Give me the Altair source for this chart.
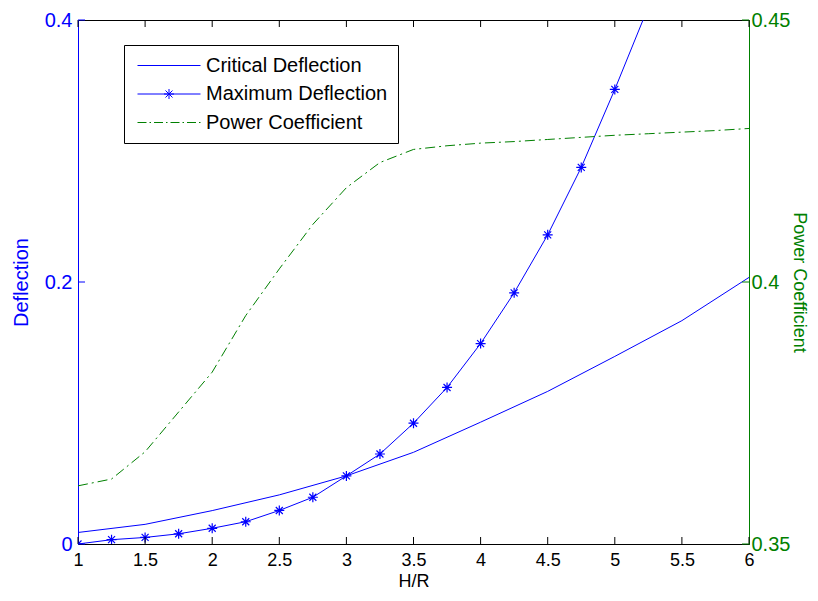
import altair as alt
import pandas as pd

# ---------------- data ----------------
x_max = [1.0, 1.25, 1.5, 1.75, 2.0, 2.25, 2.5, 2.75, 3.0, 3.25, 3.5, 3.75,
         4.0, 4.25, 4.5, 4.75, 5.0, 5.25]
max_deflection = [0.0, 0.0033, 0.005, 0.0078, 0.012, 0.017, 0.0256, 0.0357,
                  0.052, 0.0687, 0.0922, 0.1195, 0.153, 0.1917, 0.236, 0.2875,
                  0.347, 0.41]

x_crit = [1.0, 1.5, 2.0, 2.5, 3.0, 3.5, 4.0, 4.5, 5.0, 5.5, 6.0]
critical_deflection = [0.0088, 0.015, 0.0255, 0.0375, 0.052, 0.07, 0.093,
                       0.1165, 0.1432, 0.1705, 0.2035]

x_cp = [1.0, 1.25, 1.5, 1.75, 2.0, 2.25, 2.5, 2.75, 3.0, 3.25, 3.5, 3.75,
        4.0, 4.25, 4.5, 4.75, 5.0, 5.25, 5.5, 5.75, 6.0]
power_coefficient = [0.3611, 0.3624, 0.3676, 0.3752, 0.3828, 0.3936, 0.4025,
                     0.411, 0.418, 0.4228, 0.4253, 0.426, 0.4265, 0.4268,
                     0.4272, 0.4276, 0.428, 0.4283, 0.4286, 0.4289, 0.4293]

x_ticks = [1, 1.5, 2, 2.5, 3, 3.5, 4, 4.5, 5, 5.5, 6]
defl_ticks = [0, 0.2, 0.4]
cp_ticks = [0.35, 0.4, 0.45]
series_names = ["Critical Deflection", "Maximum Deflection", "Power Coefficient"]

# ---------------- styling ----------------
W, H = 671, 524
BLUE = "#0000ff"
GREEN = "#008000"
FONT = "Liberation Sans"
FS = 20
XFS = 18
TICK = 7

ASTERISK = "M-1,0L1,0M0,-1L0,1M-0.7,-0.7L0.7,0.7M-0.7,0.7L0.7,-0.7"


def seg(a, b):
    # legend sample path segment, unit = 10 px
    return f"M{a/10:.2f},0L{b/10:.2f},0"


L0, L1 = -7, 56
plain_path = seg(L0, L1)
cx = (L0 + L1) / 20
star_path = plain_path + (
    f"M{cx-0.5:.2f},0L{cx+0.5:.2f},0M{cx:.2f},-0.5L{cx:.2f},0.5"
    f"M{cx-0.35:.2f},-0.35L{cx+0.35:.2f},0.35M{cx-0.35:.2f},0.35L{cx+0.35:.2f},-0.35")
dd = []
p = L0
while p < L1:
    dd.append(seg(p, min(p + 9, L1)))
    p += 12
    if p < L1:
        dd.append(seg(p, min(p + 1.5, L1)))
    p += 4.5
dashdot_path = "".join(dd)

xscale = alt.Scale(domain=[1, 6], nice=False, zero=False)
dscale = alt.Scale(domain=[0, 0.4], nice=False, zero=False)
cscale = alt.Scale(domain=[0.35, 0.45], nice=False, zero=False)

df_max = pd.DataFrame({"x": x_max, "y": max_deflection})
df_crit = pd.DataFrame({"x": x_crit, "y": critical_deflection})
df_cp = pd.DataFrame({"x": x_cp, "y": power_coefficient})
df_xt = pd.DataFrame({"t": x_ticks})
df_dt = pd.DataFrame({"t": defl_ticks})
df_ct = pd.DataFrame({"t": cp_ticks})
df_leg = pd.DataFrame({"series": series_names})

x_axis = alt.Axis(values=x_ticks, format="~g", title="H/R", ticks=False,
                  grid=False, domainColor="black", orient="bottom",
                  labelColor="black", titleColor="black", labelPadding=7,
                  titlePadding=3, labelFlush=False, labelFontSize=XFS,
                  titleFontSize=XFS)
left_axis = alt.Axis(values=defl_ticks, format="~g", title="Deflection",
                     orient="left", ticks=False, grid=False, domainColor=BLUE,
                     labelColor=BLUE, titleColor=BLUE, labelPadding=6,
                     titlePadding=13)
right_axis = alt.Axis(values=cp_ticks, format="~g", title="Power Coefficient",
                      orient="right", ticks=False, grid=False, domainColor=GREEN,
                      labelColor=GREEN, titleColor=GREEN, labelPadding=2,
                      titlePadding=0, titleFontSize=18)

crit = alt.Chart(df_crit).mark_line(color=BLUE, strokeWidth=1, clip=True).encode(
    x=alt.X("x:Q", scale=xscale, axis=x_axis),
    y=alt.Y("y:Q", scale=dscale, axis=left_axis),
)
maxl = alt.Chart(df_max).mark_line(color=BLUE, strokeWidth=1, clip=True).encode(
    x=alt.X("x:Q", scale=xscale, axis=x_axis),
    y=alt.Y("y:Q", scale=dscale, axis=None),
)
maxp = alt.Chart(df_max).mark_point(shape=ASTERISK, size=100, color=BLUE,
                                    filled=False, strokeWidth=1.2, opacity=1,
                                    clip=True).encode(
    x=alt.X("x:Q", scale=xscale, axis=x_axis),
    y=alt.Y("y:Q", scale=dscale, axis=None),
)
cp = alt.Chart(df_cp).mark_line(color=GREEN, strokeWidth=1,
                                strokeDash=[10, 4, 2, 4], clip=True).encode(
    x=alt.X("x:Q", scale=xscale, axis=x_axis),
    y=alt.Y("y:Q", scale=cscale, axis=right_axis),
)
xt_bottom = alt.Chart(df_xt).mark_rule(color="black", strokeWidth=1).encode(
    x=alt.X("t:Q", scale=xscale, axis=x_axis),
    y=alt.value(H), y2=alt.value(H - TICK),
)
xt_top = alt.Chart(df_xt).mark_rule(color="black", strokeWidth=1).encode(
    x=alt.X("t:Q", scale=xscale, axis=x_axis),
    y=alt.value(0), y2=alt.value(TICK),
)
dt = alt.Chart(df_dt).mark_rule(color=BLUE, strokeWidth=1).encode(
    y=alt.Y("t:Q", scale=dscale, axis=None),
    x=alt.value(0), x2=alt.value(TICK),
)
ct = alt.Chart(df_ct).mark_rule(color=GREEN, strokeWidth=1).encode(
    y=alt.Y("t:Q", scale=cscale, axis=None),
    x=alt.value(W), x2=alt.value(W - TICK),
)

leg = alt.Legend(title=None, orient="none", legendX=46, legendY=25,
                 fillColor="white", strokeColor="black", padding=10,
                 labelFont=FONT, labelFontSize=FS, labelColor="black",
                 labelLimit=0, symbolSize=400, symbolStrokeWidth=1,
                 symbolOpacity=1, labelOffset=51, rowPadding=7.5)
legend_layer = alt.Chart(df_leg).mark_point(filled=False, opacity=1,
                                            strokeWidth=1).encode(
    color=alt.Color("series:N", scale=alt.Scale(domain=series_names,
                                                range=[BLUE, BLUE, GREEN]),
                    legend=leg),
    shape=alt.Shape("series:N", scale=alt.Scale(domain=series_names,
                                                range=[plain_path, star_path,
                                                       dashdot_path]),
                    legend=leg),
).transform_filter("datum.series == 'none'")

chart = alt.layer(
    crit, maxl, maxp, cp, xt_bottom, xt_top, dt, ct, legend_layer
).resolve_scale(y="independent").properties(
    width=W, height=H,
    padding={"left": 3, "top": 2, "right": 2, "bottom": 0},
    background="white",
).configure_view(stroke="black", strokeWidth=1).configure_axis(
    labelFont=FONT, titleFont=FONT, labelFontSize=FS, titleFontSize=FS,
    titleFontWeight="normal", domainWidth=1, zindex=1,
)

chart.save("out.html", embed_options={"renderer": "svg", "actions": False})
